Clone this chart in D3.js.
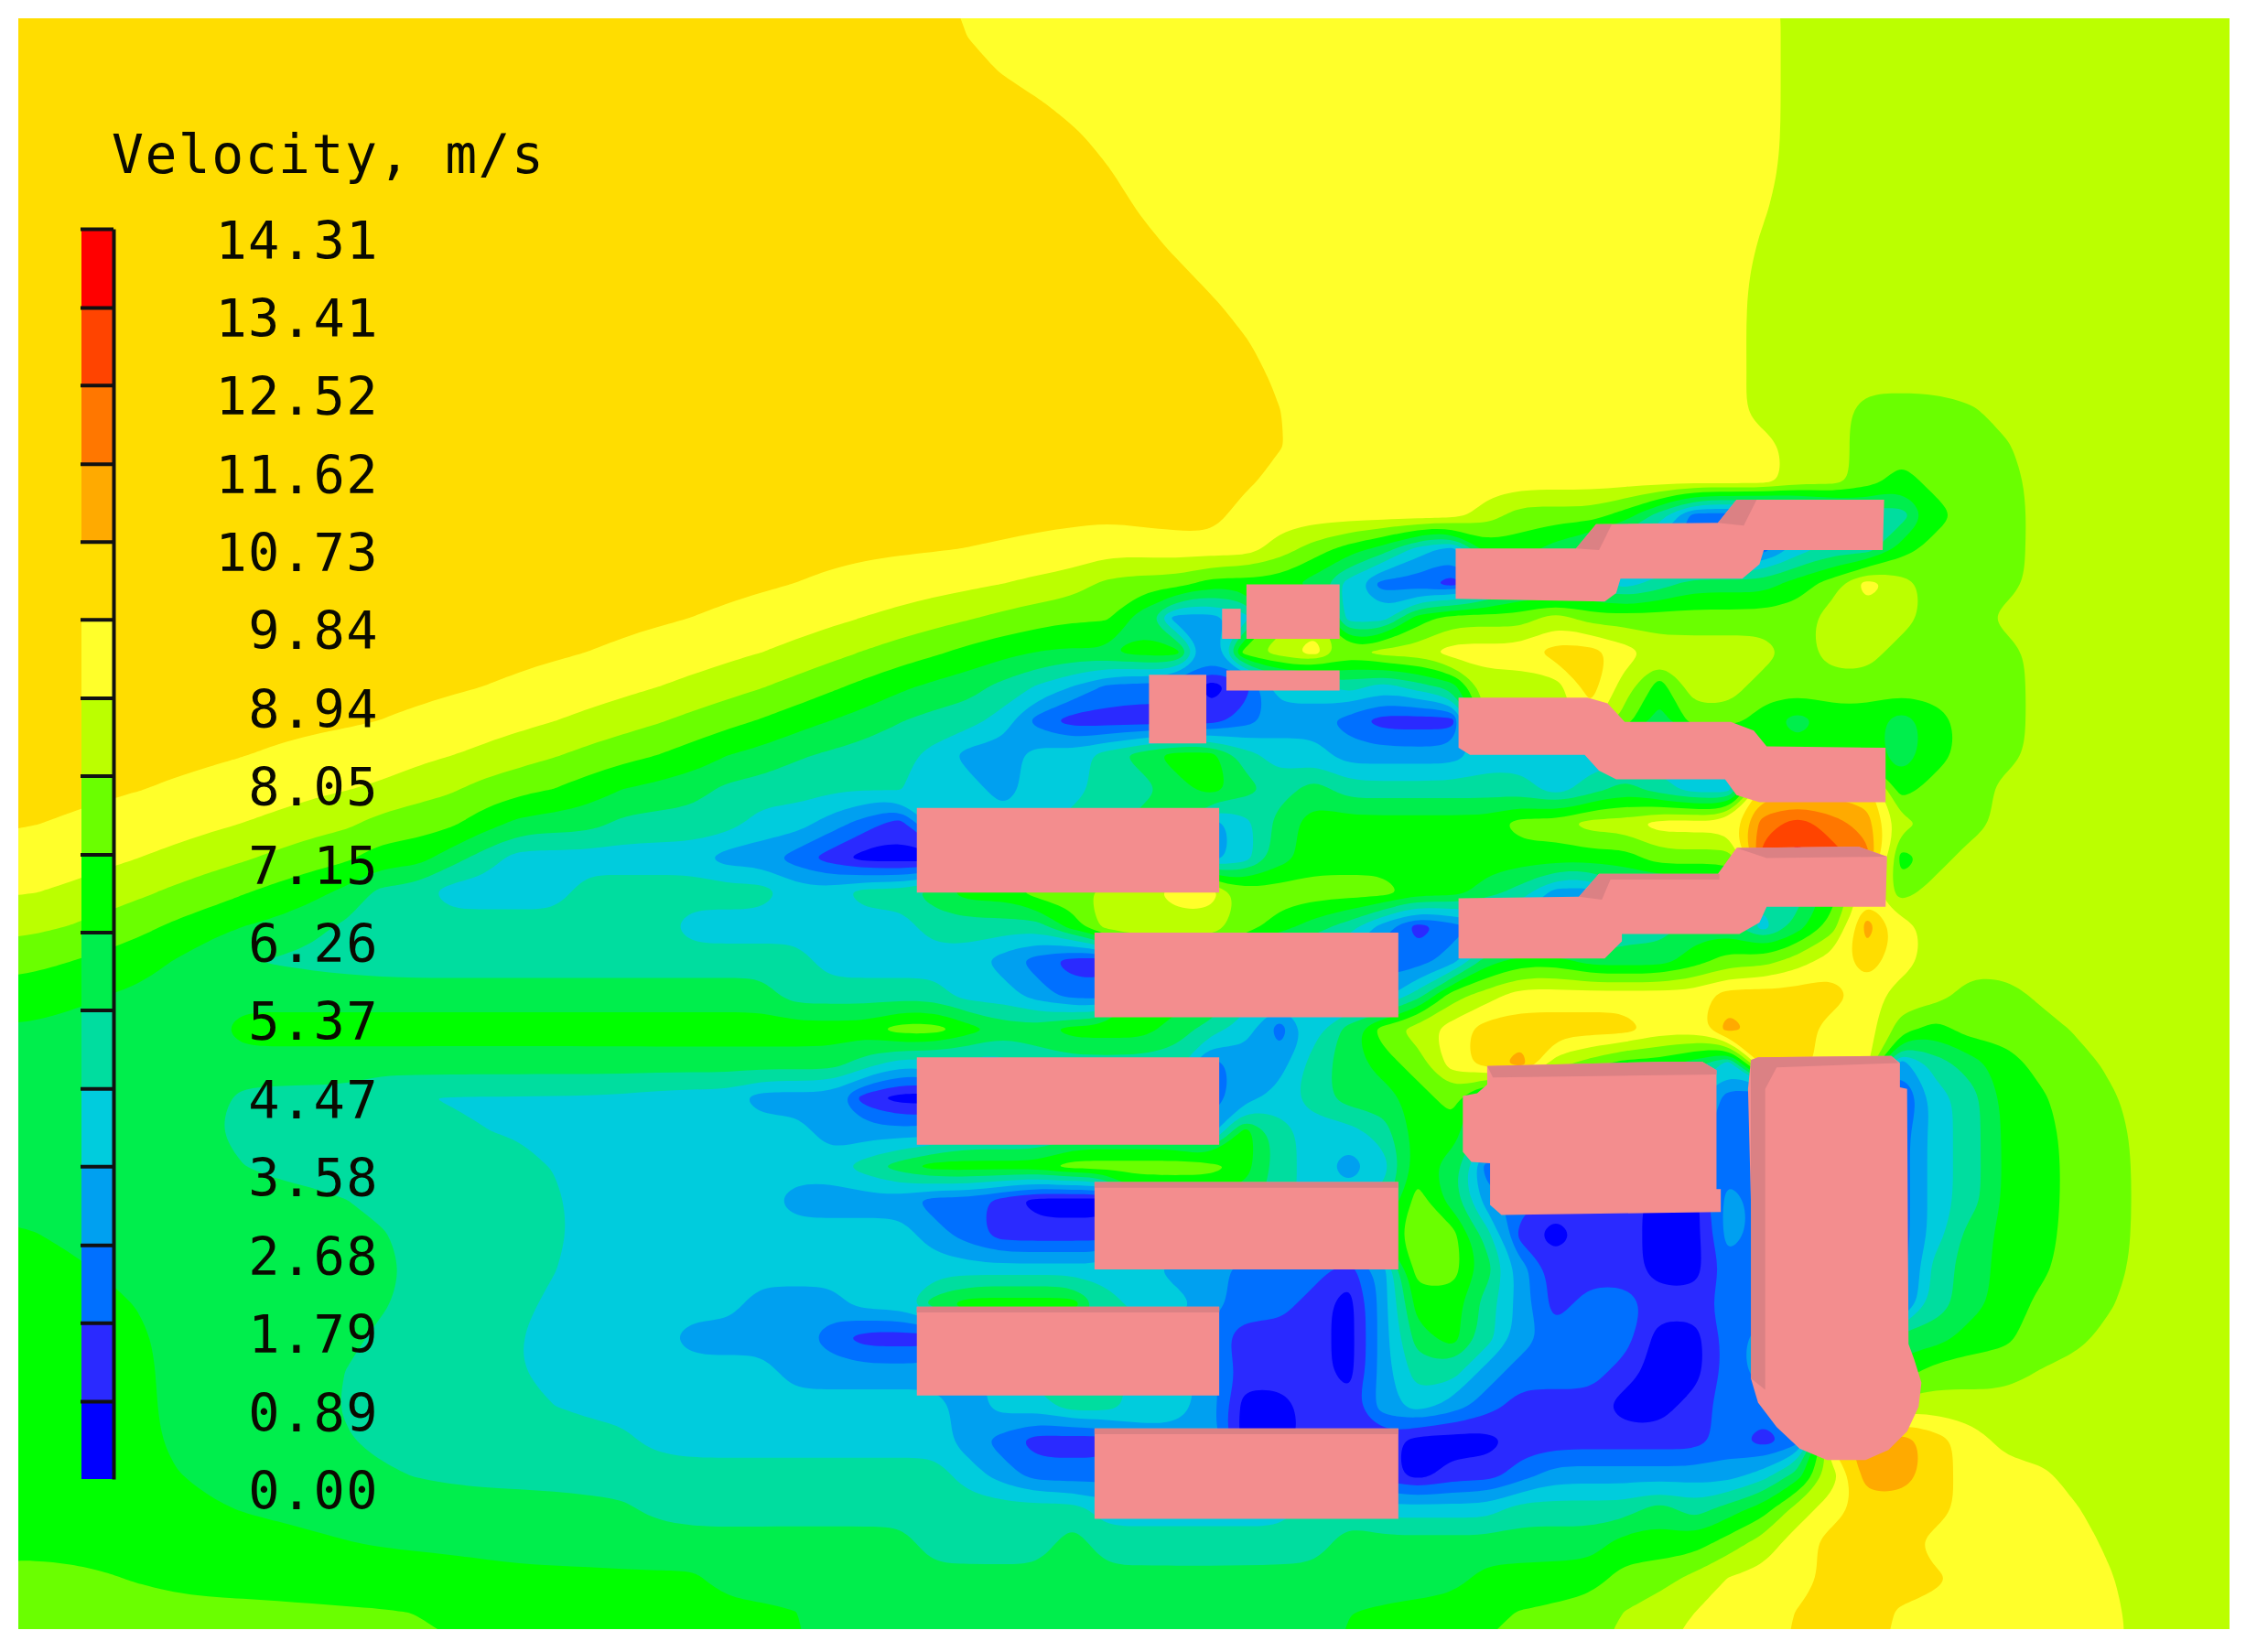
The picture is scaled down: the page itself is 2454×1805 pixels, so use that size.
<!DOCTYPE html>
<html>
<head>
    <title>Velocity field</title>
    <meta charset="UTF-8">
    <script src="https://d3js.org/d3.v7.min.js"></script>
    <style>
        html, body { margin: 0; background: #fff; }
        svg { display: block; filter: blur(0.7px); }
        .legend-label text {
            font-family: "DejaVu Sans Mono", monospace;
            font-size: 57px;
            letter-spacing: 1.4px;
            fill: #0a0a00;
        }
        .legend-title {
            font-family: "DejaVu Sans Mono", monospace;
            font-size: 58px;
            letter-spacing: 1.5px;
            fill: #0a0a00;
        }
    </style>
</head>
<body>
<div id="chart"></div>
<script>
// legend values, bottom to top
const legendTicks = [0, 0.89, 1.79, 2.68, 3.58, 4.47, 5.37, 6.26, 7.15, 8.05, 8.94, 9.84, 10.73, 11.62, 12.52, 13.41, 14.31];
const bandColors = ["#0000ff", "#2a2aff", "#0070ff", "#00a0f0", "#00ccdd", "#00dd9f", "#00ee4c", "#00ff00",
    "#6aff00", "#bbff00", "#ffff2a", "#ffdd00", "#ffaa00", "#ff7700", "#ff4400", "#ff0000"];

// velocity, one hex digit per cell = legend band index
const bandRows = [
"bbbbbbbb bbbbbbbb bbbbbbbb bbbaaaaa aaaaaaaa aaaaaaaa aaa99999 99999999",
"bbbbbbbb bbbbbbbb bbbbbbbb bbbbaaaa aaaaaaaa aaaaaaaa aaa99999 99999999",
"bbbbbbbb bbbbbbbb bbbbbbbb bbbbbbaa aaaaaaaa aaaaaaaa aaa99999 99999999",
"bbbbbbbb bbbbbbbb bbbbbbbb bbbbbbba aaaaaaaa aaaaaaaa aaa99999 99999999",
"bbbbbbbb bbbbbbbb bbbbbbbb bbbbbbbb aaaaaaaa aaaaaaaa aaa99999 99999999",
"bbbbbbbb bbbbbbbb bbbbbbbb bbbbbbbb aaaaaaaa aaaaaaaa aaa99999 99999999",
"bbbbbbbb bbbbbbbb bbbbbbbb bbbbbbbb baaaaaaa aaaaaaaa aa999999 99999999",
"bbbbbbbb bbbbbbbb bbbbbbbb bbbbbbbb bbaaaaaa aaaaaaaa aa999999 99999999",
"bbbbbbbb bbbbbbbb bbbbbbbb bbbbbbbb bbbaaaaa aaaaaaaa aa999999 99999999",
"bbbbbbbb bbbbbbbb bbbbbbbb bbbbbbbb bbbbaaaa aaaaaaaa aa999999 99999999",
"bbbbbbbb bbbbbbbb bbbbbbbb bbbbbbbb bbbbaaaa aaaaaaaa aa999999 99999999",
"bbbbbbbb bbbbbbbb bbbbbbbb bbbbbbbb bbbbbaaa aaaaaaaa aa999888 89999999",
"bbbbbbbb bbbbbbbb bbbbbbbb bbbbbbbb bbbbbaaa aaaaaaaa aaa99888 88999999",
"bbbbbbbb bbbbbbbb bbbbbbbb bbbbbbbb bbbbaaaa aaaaaaaa aaa99878 88999999",
"bbbbbbbb bbbbbbbb bbbbbbbb bbbbbbbb bbbaaaaa aa988875 22234557 88999999",
"bbbbbbbb bbbbbbbb bbbbbbbb bbbbbbba aaaa9876 43776543 22245578 88999999",
"bbbbbbbb bbbbbbbb bbbbbbba aaaaa998 88777642 21355545 66678a98 88999999",
"bbbbbbbb bbbbbbbb bbbbaaaa aa998888 63348944 78889888 88889998 89999999",
"bbbbbbbb bbbbbbbb baaaaaa9 98877777 77389a89 9aaabba9 99989988 88999999",
"bbbbbbbb bbbbbbaa aaaa9988 76665432 22014454 56999b97 99888888 88999999",
"bbbbbbbb bbbaaaaa a9988876 65554211 11123321 11999a86 88767767 88999999",
"bbbbbbba aaaaaa99 88876655 55433445 67754433 33444444 44777767 88999999",
"bbbbaaaa aaa99888 76665555 55443445 56765655 55554565 44bbbb78 89999999",
"baaaaaaa 99888766 65555443 21444455 66346777 7778899a aadedc98 89999999",
"aaaaa998 88776544 44443321 00055667 77346777 77777778 88efed78 99999999",
"aa998887 76554444 55555544 55677889 9aa88888 77653355 55557a89 99999999",
"99887766 55555555 55544444 44555579 99987653 12333355 66468ca9 99999999",
"87776555 55555555 55555554 44443211 77754432 23677666 7889aba9 99999999",
"76666666 66666666 66666655 55544322 77754433 589aaaaa abbbba99 88999999",
"66666677 77777777 77777777 78876677 76542468 9abbbbba acbbaa87 88899999",
"66666666 66666666 66666666 54444555 55233567 8abc9877 64bbaa35 67889999",
"66666655 55444444 44444333 10044455 44234566 78555555 42111114 57788999",
"66666555 55554444 44444443 33344455 55375445 77555555 32222224 57788999",
"66666655 55555555 44444444 56777788 88875434 76222222 22222224 57788999",
"66666666 66555555 44444433 33221000 66665445 86321110 03222224 57788999",
"76666666 66655555 44444444 44321111 55544447 88510110 03222224 67788999",
"77666666 66665555 44444444 44444444 43322213 88631110 02222225 67788999",
"77776666 66655554 44444333 44677775 44322103 77531221 12222225 67888999",
"77776666 66555544 44433332 11155555 53211103 67532220 02333366 77889999",
"77776666 65555544 44444433 33334555 44311103 55322210 02333378 88999999",
"77776666 65555554 44444444 44434455 44300113 43211100 12222299 99999999",
"77776666 65555555 55444444 44432111 33300111 00011111 1212bccb a9999999",
"77776666 66655555 55555555 55543222 33333321 01123333 33469ccb aaa99999",
"77777766 66666666 66555555 55555554 44444554 44455556 5679abbb aaaa9999",
"77777777 76666666 66666666 66555565 55555566 66666677 789abbba aaaa9999",
"88877777 77777777 77776666 66666666 66666666 66777788 9aaabbbb aaaaa999",
"88888888 88888777 77777776 66666666 66666677 7788889a aaabbbaa aaaaa999"
];

// buildings in site coordinates: [x0, x1, y0, y1]
const blocks = [
    [640, 851, 564, 623], [764, 976, 651, 710], [640, 851, 738, 799],
    [764, 976, 825, 886], [640, 851, 912, 974], [764, 976, 997, 1060],
    [870, 935, 408, 446], [856, 935, 468, 482], [802, 842, 471, 519], [853, 866, 425, 446]
];
const outlines = [
    [[1016,383],[1100,383],[1114,366],[1199,365],[1212,349],[1315,349],[1314,384],[1231,384],[1228,394],[1216,404],[1131,404],[1128,414],[1120,420],[1016,418]],
    [[1018,487],[1108,487],[1122,491],[1134,504],[1208,504],[1224,510],[1233,521],[1316,522],[1316,560],[1228,560],[1212,555],[1204,544],[1128,544],[1116,538],[1106,527],[1026,527],[1018,522]],
    [[1018,627],[1102,626],[1116,610],[1199,610],[1212,592],[1297,591],[1317,598],[1316,633],[1233,633],[1228,644],[1214,652],[1132,652],[1132,657],[1120,669],[1018,669]],
    [[1038,744],[1166,741],[1188,741],[1198,747],[1198,830],[1201,830],[1201,846],[1048,848],[1040,841],[1040,812],[1027,811],[1021,804],[1021,765],[1031,763],[1038,757]],
    [[1222,740],[1227,738],[1320,737],[1326,742],[1326,759],[1331,760],[1332,938],[1336,949],[1341,965],[1339,982],[1331,999],[1318,1012],[1302,1019],[1275,1019],[1256,1011],[1240,996],[1227,979],[1222,962],[1224,935],[1225,895],[1222,838],[1220,760]]
];
const roofShades = [
    [[1100,383],[1114,366],[1125,366],[1116,384]],
    [[1199,365],[1212,349],[1226,349],[1217,367]],
    [[1212,592],[1297,591],[1317,598],[1233,599]],
    [[1102,626],[1116,610],[1200,610],[1200,614],[1124,614],[1118,628]],
    [[1038,744],[1166,741],[1188,741],[1198,747],[1198,750],[1042,752]],
    [[1222,740],[1227,738],[1320,737],[1325,742],[1240,745],[1232,760],[1232,970],[1222,962]],
    [[764,997],[976,997],[976,1001],[764,1001]],
    [[764,825],[976,825],[976,829],[764,829]],
    [[640,912],[851,912],[851,916],[640,916]]
];

const width = 2454, height = 1805;
const plot = { left: 20, right: 2436, top: 20, bottom: 1780 };

const svg = d3.select("#chart").append("svg")
    .attr("width", width)
    .attr("height", height);

svg.append("clipPath").attr("id", "plot-clip").append("rect")
    .attr("x", plot.left).attr("y", plot.top)
    .attr("width", plot.right - plot.left).attr("height", plot.bottom - plot.top);

// field, with the edge rows and columns repeated so contours run past the frame
const rows = bandRows.map(r => r.replace(/ /g, ""));
const padded = [rows[0], ...rows, rows[rows.length - 1]].map(r => r[0] + r + r[r.length - 1]);
const nRows = rows.length, nCols = rows[0].length;
const gridW = nCols + 2, gridH = nRows + 2;
const raw = padded.flatMap(r => Array.from(r, c => {
    const b = parseInt(c, 16);
    return (legendTicks[b] + legendTicks[b + 1]) / 2;
}));

// soften the grid's stair steps away from the wake, where the detail has to stay
const soft = raw.slice();
d3.blur2({ data: soft, width: gridW, height: gridH }, 0.5);
const inWake = (c, r) => c <= 57 && r <= 45 && (
    (c >= 33 && r >= 15) || (c >= 28 && r >= 21) || (c >= 20 && r >= 24) ||
    (c >= 11 && r >= 25 && r <= 27) || (c >= 6 && r >= 29 && r <= 31) ||
    (c >= 41 && c <= 55 && r >= 12));
const keep = raw.map((d, i) => inWake(i % gridW, Math.floor(i / gridW)) ? 1 : 0);
d3.blur2({ data: keep, width: gridW, height: gridH }, 0.5);
const cells = raw.map((d, i) => {
    const k = Math.min(1, keep[i] * 1.5);
    return d * k + soft[i] * (1 - k);
});

const xCell = d3.scaleLinear().domain([1, nCols + 1]).range([plot.left, plot.right]);
const yCell = d3.scaleLinear().domain([1, nRows + 1]).range([plot.top, plot.bottom]);
const xSite = d3.scaleLinear().domain([13, 1556]).range([plot.left, plot.right]);
const ySite = d3.scaleLinear().domain([13, 1137]).range([plot.top, plot.bottom]);

const contours = d3.contours()
    .size([gridW, gridH])
    .thresholds(legendTicks.slice(0, 16))(cells);

const ringLine = d3.line()
    .x(d => xCell(d[0]))
    .y(d => yCell(d[1]))
    .curve(d3.curveBasisClosed);

svg.append("g")
    .attr("clip-path", "url(#plot-clip)")
    .selectAll("path")
    .data(contours)
    .join("path")
    .attr("d", d => d.coordinates.flatMap(poly => poly.map(ring => ringLine(ring.slice(0, -1)))).join(""))
    .attr("fill", (d, i) => bandColors[i]);

// buildings
const siteLine = d3.line().x(d => xSite(d[0])).y(d => ySite(d[1]));
const blockPts = blocks.map(b => [[b[0], b[2]], [b[1], b[2]], [b[1], b[3]], [b[0], b[3]]]);

svg.append("g").selectAll("path")
    .data(blockPts.concat(outlines))
    .join("path")
    .attr("d", d => siteLine(d) + "Z")
    .attr("fill", "#f38d8e");

svg.append("g").selectAll("path")
    .data(roofShades)
    .join("path")
    .attr("d", d => siteLine(d) + "Z")
    .attr("fill", "#db8184");

// legend
const legendY = d3.scaleLinear().domain([0, 14.31]).range([1616, 250]);
const legend = svg.append("g");

legend.selectAll("rect")
    .data(bandColors)
    .join("rect")
    .attr("x", 89)
    .attr("width", 35)
    .attr("y", (d, i) => legendY(legendTicks[i + 1]))
    .attr("height", (d, i) => legendY(legendTicks[i]) - legendY(legendTicks[i + 1]))
    .attr("fill", d => d);

const legendAxis = d3.axisRight(legendY)
    .tickValues(legendTicks)
    .tickFormat(d3.format(".2f"))
    .tickSize(-36)
    .tickSizeOuter(0);

const axisG = legend.append("g")
    .attr("class", "legend-label")
    .attr("transform", "translate(124,0)")
    .call(legendAxis);

axisG.select(".domain").attr("stroke", "#111").attr("stroke-width", 4);
axisG.selectAll(".tick line").attr("stroke", "#111").attr("stroke-width", 4)
    .attr("display", d => d === 0 ? "none" : null);
axisG.selectAll(".tick text")
    .attr("text-anchor", "end")
    .attr("x", 290)
    .attr("dy", null)
    .attr("y", 32);

svg.append("text")
    .attr("class", "legend-title")
    .attr("x", 122)
    .attr("y", 189)
    .text("Velocity, m/s");
</script>
</body>
</html>
